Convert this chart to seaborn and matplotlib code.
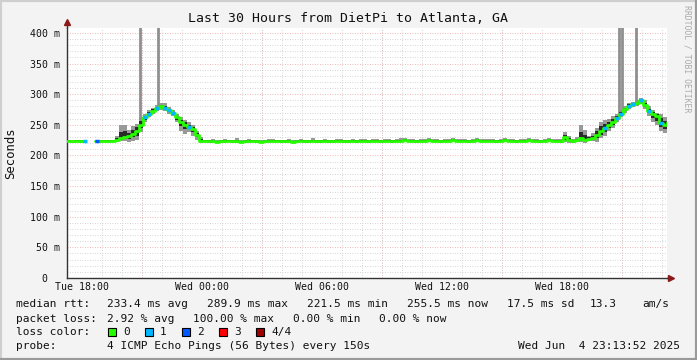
import numpy as np
import pandas as pd
import seaborn as sns
import matplotlib.pyplot as plt
from matplotlib.patches import Rectangle
from matplotlib.lines import Line2D

# ---- data (12 minute samples, Tue 17:13:52 -> Wed 23:13:52) ----
start_hour = 17 + 13 / 60 + 52 / 3600
step_hours = 0.2

median_ms = [
    224, 223, 224, 223, 224, np.nan, np.nan, 224, 223, 224,
    223, 224, 226, 228, 230, 232, 235, 240, 250, 262,
    268, 273, 277, 280, 278, 274, 269, 262, 255, 250,
    247, 243, 234, 224,
    224, 223, 223, 222, 223, 223, 224, 223, 223, 222,
    223, 223, 224, 223, 222, 223, 223, 224, 224, 223,
    223, 223, 222, 223, 224, 223, 223, 224, 223, 223,
    224, 223, 223, 224, 224, 223, 223, 224, 223, 224,
    224, 223, 224, 224, 223, 224, 224, 223, 224, 224,
    225, 224, 224, 223, 224, 224, 225, 224, 224, 223,
    224, 224, 225, 224, 224, 224, 223, 224, 225, 224,
    224, 224, 224, 223, 224, 225, 224, 224, 223, 224,
    224, 225, 224, 224, 223, 224, 225, 224, 224,
    224, 230, 226, 224, 225, 228, 226, 227, 229, 234,
    240, 245, 250, 255, 261, 268, 275, 281, 284, 285,
    290, 282, 272, 267, 264, 253, 250, 255,
]
smoke_lo = [
    222, 221, 222, 221, 222, np.nan, np.nan, 222, 221, 222,
    221, 222, 222, 223, 224, 222, 224, 225, 238, 255,
    262, 268, 272, 274, 272, 268, 264, 255, 240, 235,
    238, 232, 226, 221,
    222, 221, 221, 220, 221, 221, 222, 221, 221, 220,
    221, 221, 222, 221, 220, 221, 221, 222, 222, 221,
    221, 221, 220, 221, 222, 221, 221, 222, 221, 221,
    222, 221, 221, 222, 222, 221, 221, 222, 221, 222,
    222, 221, 222, 222, 221, 222, 222, 221, 222, 222,
    223, 222, 222, 221, 222, 222, 223, 222, 222, 221,
    222, 222, 223, 222, 222, 222, 221, 222, 223, 222,
    222, 222, 222, 221, 222, 223, 222, 222, 221, 222,
    222, 223, 222, 222, 221, 222, 223, 222, 222,
    221, 222, 221, 221, 222, 222, 221, 223, 224, 222,
    228, 232, 240, 245, 254, 262, 270, 276, 279, 280,
    284, 276, 265, 255, 250, 240, 236, 240,
]
smoke_hi = [
    226, 225, 226, 226, 226, np.nan, np.nan, 226, 226, 225,
    226, 226, 232, 250, 250, 242, 248, 252, 262, 268,
    274, 278, 282, 286, 285, 279, 274, 268, 262, 258,
    254, 250, 240, 230,
    226, 226, 227, 225, 226, 227, 226, 226, 228, 225,
    226, 227, 226, 226, 225, 226, 227, 227, 226, 226,
    226, 227, 225, 226, 227, 226, 226, 228, 226, 226,
    227, 226, 226, 227, 227, 226, 226, 227, 226, 227,
    227, 226, 227, 227, 226, 227, 227, 226, 227, 228,
    228, 227, 227, 226, 227, 227, 228, 227, 227, 226,
    227, 227, 228, 227, 227, 227, 226, 227, 228, 227,
    227, 227, 227, 226, 227, 228, 227, 227, 226, 227,
    227, 228, 227, 227, 226, 227, 228, 227, 227,
    227, 238, 231, 227, 230, 250, 242, 232, 236, 245,
    255, 258, 260, 264, 268, 274, 281, 286, 288, 290,
    294, 290, 280, 274, 270, 268, 262, 262,
]
loss1_samples = [4, 19, 20, 22, 24, 25, 26, 30, 134, 137, 138, 140, 141, 143, 145, 148]
loss2_samples = [7]

spike_hours = [20.886, 21.761, 44.836, 44.986, 45.661]
spike_base_ms = [258, 278, 268, 270, 285]

tick_hours = [18, 24, 30, 36, 42]
tick_labels = ["Tue 18:00", "Wed 00:00", "Wed 06:00", "Wed 12:00", "Wed 18:00"]
major_vgrid_hours = [21, 27, 33, 39, 45]

loss_names = ["0", "1", "2", "3", "4/4"]
loss_colors = ["#26ff00", "#00b8ff", "#0059ff", "#ff0000", "#a00000"]

rtt_items = ["233.4 ms avg", "289.9 ms max", "221.5 ms min", "255.5 ms now", "17.5 ms sd", "13.3"]
loss_items = ["2.92 % avg", "100.00 % max", "0.00 % min", "0.00 % now"]
probe_text = "4 ICMP Echo Pings (56 Bytes) every 150s"
stamp = "Wed Jun  4 23:13:52 2025"

W, H = 697, 360


def px(x, y):
    # pixel coords (from top-left) -> figure fraction
    return x / W, 1 - y / H


sns.set_theme(style="white")
plt.rcParams['font.family'] = ['DejaVu Sans Mono']

n = len(median_ms)
t = start_hour + step_hours * np.arange(n)
df = pd.DataFrame({"t": t, "med": median_ms, "lo": smoke_lo, "hi": smoke_hi})
df["seg"] = np.where(np.arange(n) < 6, 0, 1)
med = df["med"].to_numpy()

fig = plt.figure(figsize=(W / 100, H / 100), dpi=100, facecolor="#f3f3f3")
ax = fig.add_axes([67 / W, 82 / H, 600 / W, 250 / H])
ax.set_facecolor("white")
ax.set_xlim(start_hour, start_hour + 30)
ax.set_ylim(0, 408)

# grid
ax.set_yticks(np.arange(0, 401, 50))
ax.set_yticks(np.arange(0, 408, 10), minor=True)
ax.set_xticks(tick_hours)
ax.set_xticks(np.arange(18, 48, 1), minor=True)
ax.grid(which="minor", color="#c8c8c8", lw=0.6, ls=(0, (1, 2)))
ax.grid(which="major", axis="y", color="#eba0a0", lw=0.6, ls=(0, (1, 2)))
for h in major_vgrid_hours:
    ax.axvline(h, color="#eba0a0", lw=0.6, ls=(0, (1, 2)), zorder=0.5)

# smoke
ax.fill_between(df["t"], df["lo"], df["hi"], step="post", color="#999999", lw=0, zorder=2)
inner_lo = (df["lo"] + df["med"]) / 2
inner_hi = (df["hi"] + df["med"]) / 2
ax.fill_between(df["t"], inner_lo, inner_hi, step="post", color="#2a2a2a", lw=0, zorder=2.1)
ax.vlines(spike_hours, spike_base_ms, 420, color="#8f8f8f", lw=2, zorder=2)

# median rtt
sns.lineplot(data=df.dropna(), x="t", y="med", units="seg", estimator=None,
             drawstyle="steps-post", color=loss_colors[0], lw=2, ax=ax, zorder=3)
for idx in loss1_samples:
    ax.hlines(med[idx], t[idx], t[idx] + step_hours, color=loss_colors[1], lw=2.5, zorder=4)
for idx in loss2_samples:
    ax.hlines(med[idx], t[idx], t[idx] + step_hours, color=loss_colors[2], lw=2.5, zorder=4)

# axes styling
ax.set_xlabel("")
ax.set_ylabel("")
ax.set_yticklabels([f"{v} m" if v else "0  " for v in range(0, 401, 50)])
ax.set_xticklabels(tick_labels)
ax.tick_params(which="both", length=0, labelsize=7.1, colors="#111111")
ax.tick_params(axis="y", pad=5)
ax.tick_params(axis="x", pad=3)
for side in ["top", "right"]:
    ax.spines[side].set_visible(False)
for side in ["left", "bottom"]:
    ax.spines[side].set_color("#333333")
    ax.spines[side].set_linewidth(1)
ax.plot([0, 0], [1, 1.02], transform=ax.transAxes, color="#333333", lw=1, clip_on=False)
ax.plot([1, 1.005], [0, 0], transform=ax.transAxes, color="#333333", lw=1, clip_on=False)
ax.plot([0], [1.024], marker="^", ms=4.5, color="#8b1a1a", transform=ax.transAxes, clip_on=False)
ax.plot([1.006], [0], marker=">", ms=4.5, color="#8b1a1a", transform=ax.transAxes, clip_on=False)

# texts
fig.text(*px(348, 19), "Last 30 Hours from DietPi to Atlanta, GA", ha="center", va="center",
         fontsize=9.5, color="#111111")
fig.text(*px(11, 153), "Seconds", rotation=90, ha="center", va="center", fontsize=8.8, color="#111111")
fig.text(*px(687, 59), "RRDTOOL / TOBI OETIKER", rotation=270, ha="center", va="center",
         fontsize=5.9, color="#aaaaaa")

legend_font = 8.0
kw = dict(ha="left", va="center", fontsize=legend_font, color="#111111")

fig.text(*px(16, 304), "median rtt:", **kw)
for x, s in zip([107, 207, 307, 407, 507, 590], rtt_items):
    fig.text(*px(x, 304), s, **kw)
fig.text(*px(669, 304), "am/s", ha="right", va="center", fontsize=legend_font, color="#111111")

fig.text(*px(16, 318.5), "packet loss:", **kw)
for x, s in zip([107, 193, 293, 379], loss_items):
    fig.text(*px(x, 318.5), s, **kw)

fig.text(*px(16, 332), "loss color:", **kw)
box_x = [108, 145, 182, 219, 256]
for bx, name, col in zip(box_x, loss_names, loss_colors):
    fig.patches.append(Rectangle(px(bx, 336), 8 / W, 8 / H, transform=fig.transFigure,
                                 facecolor=col, edgecolor="black", lw=0.8))
    fig.text(*px(bx + 15, 332), name, **kw)

fig.text(*px(16, 346), "probe:", **kw)
fig.text(*px(107, 346), probe_text, **kw)
fig.text(*px(680, 346), stamp, ha="right", va="center", fontsize=legend_font, color="#111111")

# outer frame
fig.lines.append(Line2D([0, 0, 1], [0, 1, 1], transform=fig.transFigure, color="#cfcfcf", lw=3))
fig.lines.append(Line2D([0, 1, 1], [0, 0, 1], transform=fig.transFigure, color="#9a9a9a", lw=3))

fig.savefig("out.png", dpi=100, facecolor=fig.get_facecolor())
